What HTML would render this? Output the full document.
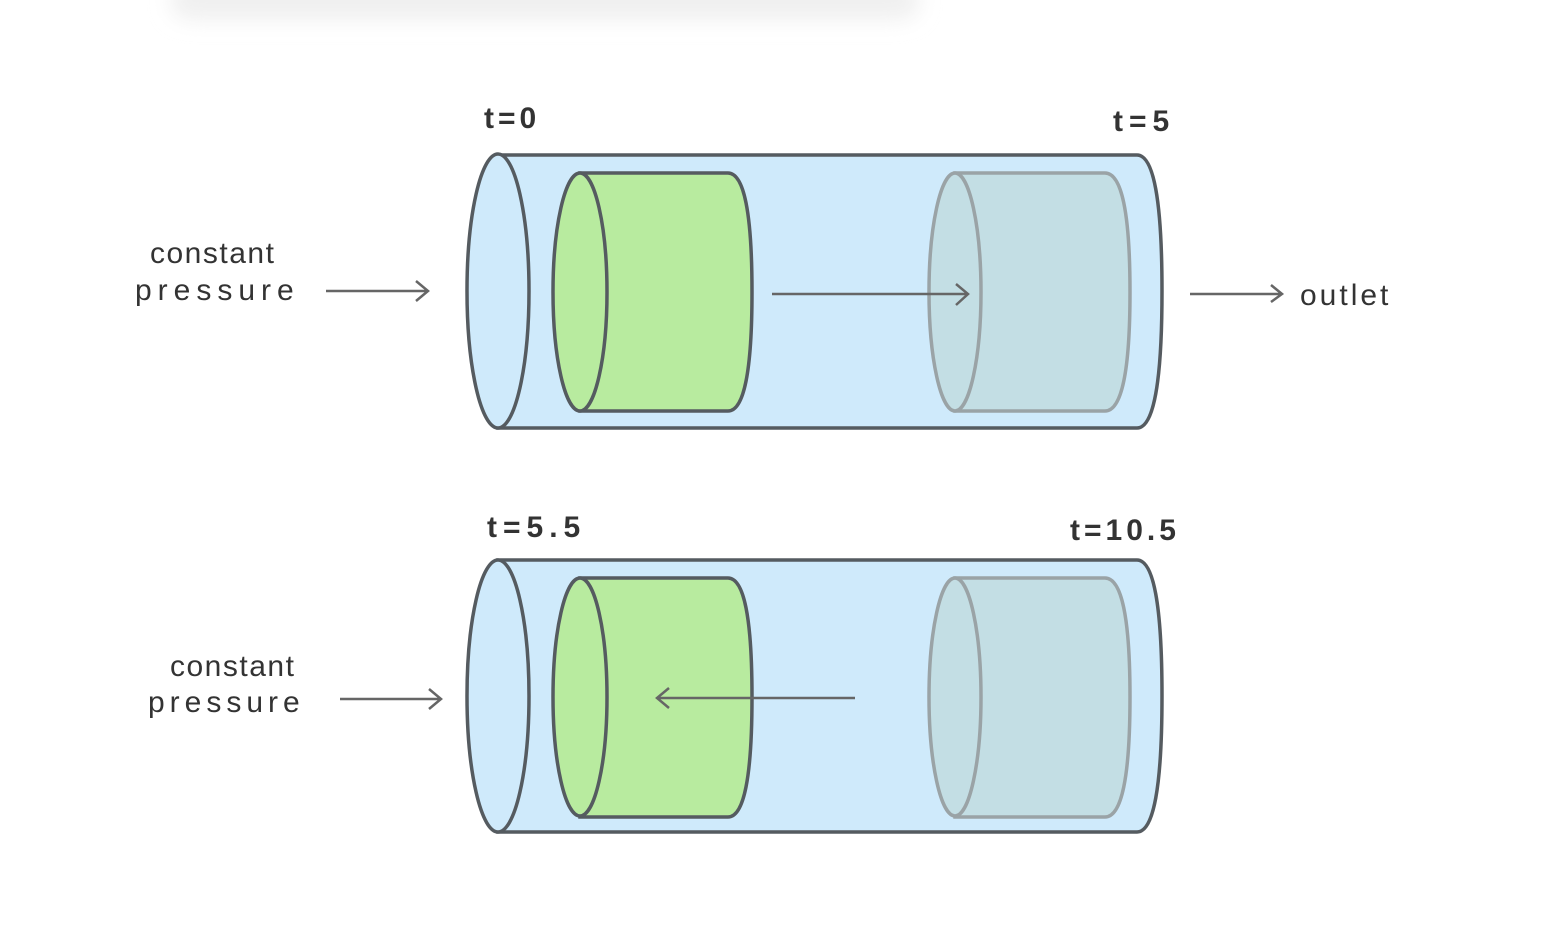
<!DOCTYPE html>
<html><head><meta charset="utf-8"><style>
html,body{margin:0;padding:0;background:#fff;width:1566px;height:949px;overflow:hidden}
text{font-family:"Liberation Sans",sans-serif;fill:#333;font-size:30px}
</style></head><body>
<svg width="1566" height="949" viewBox="0 0 1566 949" xmlns="http://www.w3.org/2000/svg">
<defs>
<filter id="b" x="-20%" y="-200%" width="140%" height="500%"><feGaussianBlur stdDeviation="10"/></filter>
</defs>
<rect x="170" y="-20" width="750" height="40" rx="20" fill="#f0f0f0" filter="url(#b)"/>

<g stroke="#555b60" stroke-width="3.5" fill="none">
<path d="M498 155 L1137 155 Q1162 155 1162 291 Q1162 428 1137 428 L498 428 Z" fill="#cfeafb"/>
<ellipse cx="498" cy="291" rx="31" ry="137" fill="#cfeafb"/>
<path d="M580 173 L728 173 Q752 173 752 292 Q752 411 728 411 L580 411 Z" fill="#b8eb9f"/>
<ellipse cx="580" cy="292" rx="27" ry="119" fill="#b8eb9f"/>
<g stroke="#9aa3a6">
<path d="M955 173 L1105 173 Q1130 173 1130 292 Q1130 411 1105 411 L955 411 Z" fill="#c3dee4"/>
<ellipse cx="955" cy="292" rx="26" ry="119" fill="#c3dee4"/>
</g>
<g stroke="#666" stroke-width="2.5">
<path d="M772 294 L968 294 M956 284 L968 294 L956 305"/>
<path d="M326 291 L428 291 M416 281 L428 291 L416 301"/>
<path d="M1190 294 L1282 294 M1271 285 L1282 294 L1271 302"/>
</g>

<path d="M498 560 L1137 560 Q1162 560 1162 696 Q1162 832 1137 832 L498 832 Z" fill="#cfeafb"/>
<ellipse cx="498" cy="696" rx="31" ry="136" fill="#cfeafb"/>
<path d="M580 578 L728 578 Q752 578 752 697 Q752 817 728 817 L580 817 Z" fill="#b8eb9f"/>
<ellipse cx="580" cy="697" rx="27" ry="119" fill="#b8eb9f"/>
<g stroke="#9aa3a6">
<path d="M955 578 L1105 578 Q1130 578 1130 697 Q1130 817 1105 817 L955 817 Z" fill="#c3dee4"/>
<ellipse cx="955" cy="697" rx="26" ry="119" fill="#c3dee4"/>
</g>
<g stroke="#666" stroke-width="2.5">
<path d="M855 698 L657 698 M669 688 L657 698 L669 708"/>
<path d="M340 699 L441 699 M429 689 L441 699 L429 709"/>
</g>
</g>

<text x="484" y="128" font-weight="bold" letter-spacing="4">t=0</text>
<text x="1113" y="131" font-weight="bold" letter-spacing="6">t=5</text>
<text x="487" y="537" font-weight="bold" letter-spacing="6">t=5.5</text>
<text x="1070" y="540" font-weight="bold" letter-spacing="4">t=10.5</text>
<text x="150" y="263" font-size="28" letter-spacing="1.5">constant</text>
<text x="135" y="300" font-size="28" letter-spacing="6">pressure</text>
<text x="170" y="676" font-size="28" letter-spacing="1.5">constant</text>
<text x="148" y="712" font-size="28" letter-spacing="5">pressure</text>
<text x="1300" y="305" font-size="28" letter-spacing="3">outlet</text>
</svg>
</body></html>
